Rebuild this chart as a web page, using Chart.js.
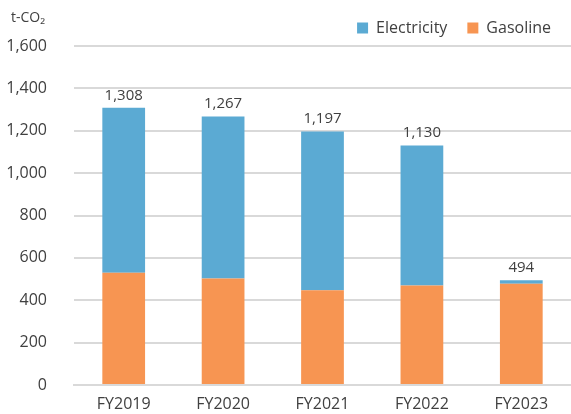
<!DOCTYPE html>
<html>
<head>
<meta charset="utf-8">
<script src="https://cdn.jsdelivr.net/npm/chart.js@4/dist/chart.umd.min.js"></script>
<style>
  body { margin: 0; background: #fff; }
  #wrap { width: 571px; height: 414px; position: relative; }
</style>
</head>
<body>
<div id="wrap"><canvas id="myChart"></canvas></div>
<script>
const years = ['FY2019', 'FY2020', 'FY2021', 'FY2022', 'FY2023']
const gasoline = [530, 503, 447, 470, 478]
const electricity = [778, 764, 750, 660, 16]
const totals = [1308, 1267, 1197, 1130, 494]
const yTicks = [0, 200, 400, 600, 800, 1000, 1200, 1400, 1600]

const FONT = "'Open Sans', 'Noto Sans', sans-serif"
const TEXT = '#404040'

// totals above each bar + unit label in the corner
const extras = {
  id: 'extras',
  afterDatasetsDraw(chart) {
    const c = chart.ctx
    const meta = chart.getDatasetMeta(1)
    c.save()
    c.fillStyle = TEXT
    c.font = '15px ' + FONT
    c.textAlign = 'center'
    c.textBaseline = 'bottom'
    meta.data.forEach((bar, i) => {
      c.fillText(totals[i].toLocaleString('en-US'), bar.x, bar.y - 5)
    })
    c.textAlign = 'left'
    c.textBaseline = 'middle'
    c.font = '14px ' + FONT
    c.fillText('t-CO₂', 11, 18)
    c.restore()
  }
}

const data = {
  labels: years,
  datasets: [
    {
      label: 'Gasoline',
      data: gasoline,
      backgroundColor: '#F79552',
      barPercentage: 0.43,
      categoryPercentage: 1,
    },
    {
      label: 'Electricity',
      data: electricity,
      backgroundColor: '#5BAAD3',
      barPercentage: 0.43,
      categoryPercentage: 1,
    },
  ],
}

const options = {
  responsive: true,
  maintainAspectRatio: false,
  animation: false,
  layout: { padding: 0 },
  plugins: {
    legend: {
      position: 'top',
      align: 'end',
      reverse: true,
      labels: {
        boxWidth: 11,
        boxHeight: 11,
        color: TEXT,
        font: { family: FONT, size: 16 },
        padding: 20,
      }
    },
    tooltip: { enabled: false },
  },
  scales: {
    x: {
      stacked: true,
      grid: { display: false },
      border: { color: '#d9d9d9', width: 2 },
      ticks: { color: TEXT, font: { family: FONT, size: 16 }, padding: 2 },
      afterFit(axis) {
        axis.height = 29
        axis.paddingLeft = 0
        axis.paddingRight = 0
      },
    },
    y: {
      stacked: true,
      min: 0,
      max: 1600,
      afterBuildTicks(axis) {
        axis.ticks = yTicks.map(v => ({ value: v }))
      },
      grid: { color: '#d9d9d9', lineWidth: 2, drawTicks: false },
      border: { display: false },
      ticks: {
        color: TEXT,
        font: { family: FONT, size: 16 },
        padding: 27,
        callback: v => v.toLocaleString('en-US'),
      },
      afterFit(axis) {
        axis.width = 74
        axis.paddingTop = 44
        axis.paddingBottom = 29
      },
    }
  }
}

const myChart = new Chart(document.getElementById('myChart'), {
  type: 'bar',
  data: data,
  options: options,
  plugins: [extras],
})
</script>
</body>
</html>
